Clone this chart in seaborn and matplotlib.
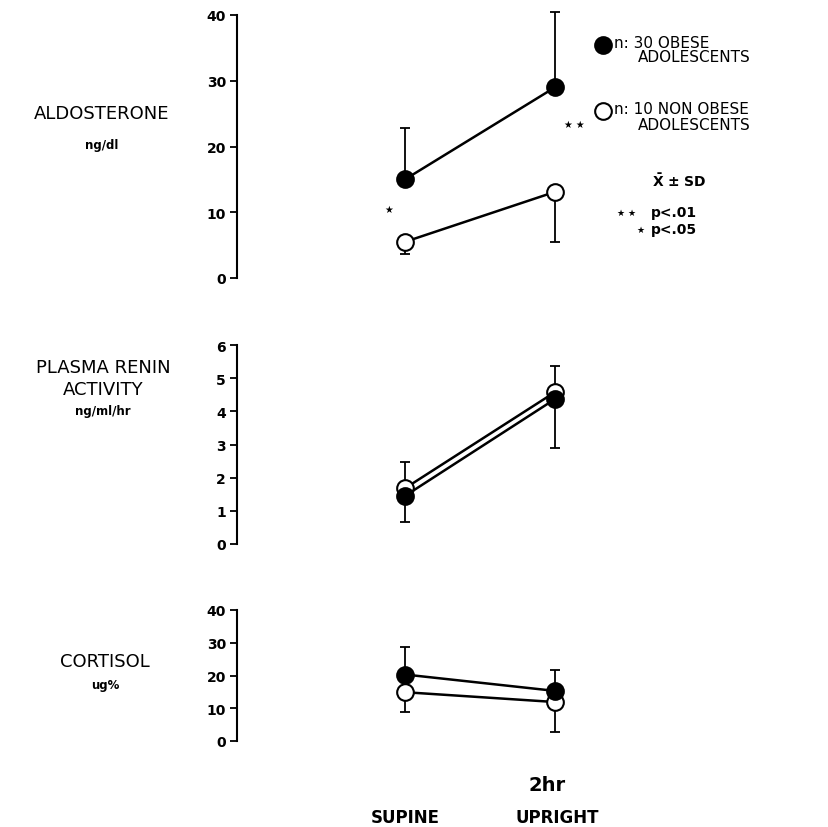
import numpy as np
import pandas as pd
import matplotlib.pyplot as plt
import seaborn as sns
from matplotlib.lines import Line2D

# ==========================================
# DATA
# ==========================================
conditions = ["SUPINE", "UPRIGHT"]

aldo_obese = [15.0, 29.0]
aldo_obese_sd = [7.8, 11.4]      # drawn upward
aldo_lean = [5.5, 13.1]
aldo_lean_sd = [1.9, 7.6]        # drawn downward

renin_obese = [1.45, 4.37]
renin_obese_sd = [0.8, 1.47]     # downward
renin_lean = [1.68, 4.58]
renin_lean_sd = [0.8, 0.8]       # upward

cort_obese = [20.3, 15.3]
cort_obese_sd = [8.5, 6.5]       # upward
cort_lean = [14.9, 11.9]
cort_lean_sd = [6.0, 9.0]        # downward

aldo_ticks = [0, 10, 20, 30, 40]
renin_ticks = [0, 1, 2, 3, 4, 5, 6]
cort_ticks = [0, 10, 20, 30, 40]

# ==========================================
# FIGURE
# ==========================================
sns.set_theme(style="white")
plt.rcParams['font.family'] = ['DejaVu Sans']
plt.rcParams['text.color'] = 'black'

W, H = 829, 828
fig = plt.figure(figsize=(W / 100, H / 100), dpi=100)

X0, X1 = 237, 640            # pixel span of the axes
XS, XU = 405, 555            # pixel position of SUPINE / UPRIGHT
unit = XU - XS
xlim = ((X0 - XS) / unit, (X1 - XS) / unit)


def make_axes(top_px, bot_px):
    ax = fig.add_axes([X0 / W, 1 - bot_px / H, (X1 - X0) / W, (bot_px - top_px) / H])
    ax.set_facecolor('none')
    return ax


def draw_panel(ax, obese, obese_sd, obese_up, lean, lean_sd, lean_up, ticks):
    df = pd.DataFrame({
        'pos': [0, 1, 0, 1],
        'value': obese + lean,
        'group': ['obese', 'obese', 'lean', 'lean'],
    })
    # error bars first so markers cover them
    for vals, sd, up in [(obese, obese_sd, obese_up), (lean, lean_sd, lean_up)]:
        sd = np.array(sd)
        zero = np.zeros_like(sd)
        yerr = [zero, sd] if up else [sd, zero]
        ax.errorbar([0, 1], vals, yerr=yerr, fmt='none', ecolor='black',
                    elinewidth=1.3, capsize=3.5, capthick=1.3, zorder=2,
                    clip_on=False)
    sns.lineplot(data=df[df.group == 'obese'], x='pos', y='value', ax=ax,
                 color='black', lw=1.8, marker='o', markersize=12,
                 markerfacecolor='black', markeredgecolor='black', markeredgewidth=1.5,
                 zorder=4, clip_on=False)
    sns.lineplot(data=df[df.group == 'lean'], x='pos', y='value', ax=ax,
                 color='black', lw=1.8, marker='o', markersize=12,
                 markerfacecolor='white', markeredgecolor='black', markeredgewidth=1.5,
                 zorder=3, clip_on=False)
    ax.set_xlim(*xlim)
    ax.set_ylim(ticks[0], ticks[-1])
    ax.set_yticks(ticks)
    ax.set_yticklabels([str(t) for t in ticks], fontsize=10, fontweight='bold')
    ax.set_xticks([])
    ax.set_xlabel('')
    ax.set_ylabel('')
    for s in ['top', 'right', 'bottom']:
        ax.spines[s].set_visible(False)
    ax.spines['left'].set_linewidth(1.5)
    ax.spines['left'].set_color('black')
    ax.tick_params(axis='y', left=True, direction='out', length=5, width=1.3,
                   pad=3, colors='black')
    if ax.get_legend() is not None:
        ax.get_legend().remove()


ax1 = make_axes(16, 279)
draw_panel(ax1, aldo_obese, aldo_obese_sd, True, aldo_lean, aldo_lean_sd, False, aldo_ticks)
ax2 = make_axes(346, 545)
draw_panel(ax2, renin_obese, renin_obese_sd, False, renin_lean, renin_lean_sd, True, renin_ticks)
ax3 = make_axes(611, 742)
draw_panel(ax3, cort_obese, cort_obese_sd, True, cort_lean, cort_lean_sd, False, cort_ticks)

# significance stars in the aldosterone panel
ax1.text(-0.11, 10.5, '★', ha='center', va='center', fontsize=7)
ax1.text(1.06, 23.4, '★ ★', ha='left', va='center', fontsize=7)


def ftext(x, y, s, **kw):
    fig.text(x / W, 1 - y / H, s, **kw)


# left-hand labels
lab = dict(ha='center', va='center', fontsize=13, color='black')
small = dict(ha='center', va='center', fontsize=8.5, fontweight='bold', color='black')
ftext(102, 114, 'ALDOSTERONE', **lab)
ftext(102, 145, 'ng/dl', **small)
ftext(103, 368, 'PLASMA RENIN', **lab)
ftext(103, 390, 'ACTIVITY', **lab)
ftext(103, 412, 'ng/ml/hr', **small)
ftext(105, 662, 'CORTISOL', **lab)
ftext(105, 686, 'ug%', **small)

# x labels
ftext(405, 818, 'SUPINE', ha='center', va='center', fontsize=12, fontweight='bold')
ftext(557, 818, 'UPRIGHT', ha='center', va='center', fontsize=12, fontweight='bold')
ftext(547, 786, '2hr', ha='center', va='center', fontsize=14, fontweight='bold')

# legend
for yy, fc in [(46, 'black'), (112, 'white')]:
    fig.add_artist(Line2D([603 / W], [1 - yy / H], marker='o', markersize=12,
                          markerfacecolor=fc, markeredgecolor='black',
                          markeredgewidth=1.5, transform=fig.transFigure))
leg = dict(ha='left', va='center', fontsize=11, color='black')
ftext(614, 43, 'n: 30 OBESE', **leg)
ftext(638, 58, 'ADOLESCENTS', **leg)
ftext(614, 110, 'n: 10 NON OBESE', **leg)
ftext(638, 125, 'ADOLESCENTS', **leg)
ftext(652, 181, r'$\mathbf{\bar{X}}$ ± SD', ha='left', va='center', fontsize=10,
      fontweight='bold')
ftext(617, 213, '★ ★', ha='left', va='center', fontsize=6.5)
ftext(651, 213, 'p<.01', ha='left', va='center', fontsize=10, fontweight='bold')
ftext(636, 230, '★', ha='left', va='center', fontsize=6.5)
ftext(651, 230, 'p<.05', ha='left', va='center', fontsize=10, fontweight='bold')

fig.savefig('out.png', dpi=100)
